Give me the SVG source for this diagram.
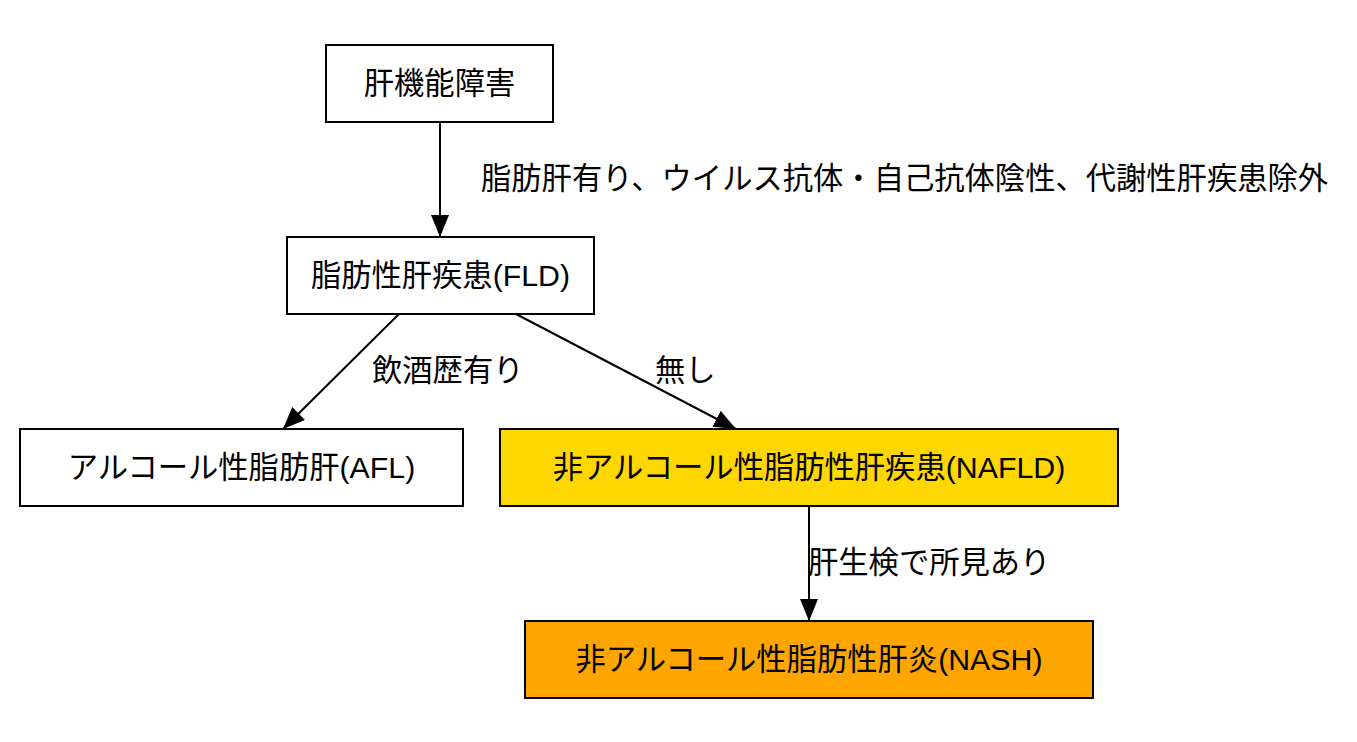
<svg xmlns="http://www.w3.org/2000/svg" width="1357" height="742" viewBox="0 0 1357 742">
<style>
.n{stroke:#000;stroke-width:2}
.t{font-family:"Liberation Sans","Noto Sans CJK JP",sans-serif;font-size:30.3px;fill:#000}
.c{text-anchor:middle;dominant-baseline:central}
.e{stroke:#000;stroke-width:2;fill:none;marker-end:url(#ah)}
</style>
<defs>
<marker id="ah" markerUnits="userSpaceOnUse" markerWidth="22" markerHeight="18" refX="22" refY="9" orient="auto">
<path d="M0,0 L22,9 L0,18 z" fill="#000"/>
</marker>
</defs>
<rect width="1357" height="742" fill="#fff"/>
<g id="connectors">
<line class="e" x1="440" y1="122" x2="440" y2="237"/>
<line class="e" x1="399" y1="314" x2="283" y2="429"/>
<line class="e" x1="516" y1="314" x2="736" y2="429"/>
<line class="e" x1="809" y1="506" x2="809" y2="621"/>
<text class="t" x="481" y="178" dominant-baseline="central">脂肪肝有り、ウイルス抗体・自己抗体陰性、代謝性肝疾患除外</text>
<text class="t" x="372" y="370" dominant-baseline="central">飲酒歴有り</text>
<text class="t" x="655" y="370" dominant-baseline="central">無し</text>
<text class="t" x="808" y="562" dominant-baseline="central">肝生検で所見あり</text>
</g>
<g id="n1">
<rect class="n" x="326" y="45" width="227" height="77" fill="#fff"/>
<text class="t c" x="439.5" y="83.5">肝機能障害</text>
</g>
<g id="n2">
<rect class="n" x="287" y="237" width="307" height="77" fill="#fff"/>
<text class="t c" x="440.5" y="275.5">脂肪性肝疾患(FLD)</text>
</g>
<g id="n3">
<rect class="n" x="20" y="429" width="443" height="77" fill="#fff"/>
<text class="t c" x="241.5" y="467.5">アルコール性脂肪肝(AFL)</text>
</g>
<g id="n4">
<rect class="n" x="500" y="429" width="618" height="77" fill="#FFD700"/>
<text class="t c" x="809" y="467.5">非アルコール性脂肪性肝疾患(NAFLD)</text>
</g>
<g id="n5">
<rect class="n" x="525" y="621" width="568" height="77" fill="#FFA500"/>
<text class="t c" x="809" y="659.5">非アルコール性脂肪性肝炎(NASH)</text>
</g>
</svg>
